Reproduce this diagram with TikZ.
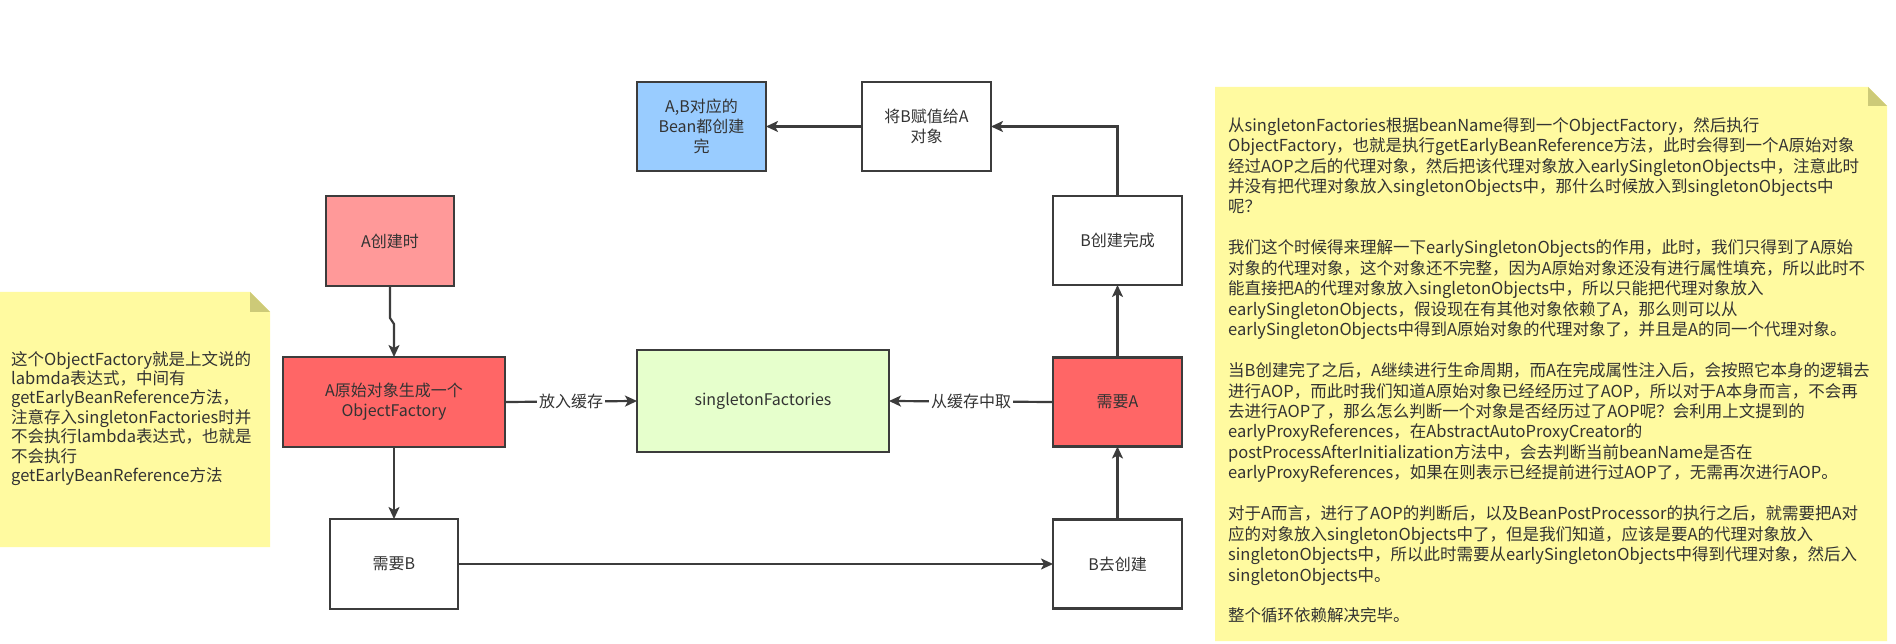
\documentclass[tikz,border=0pt]{standalone}
\usepackage{fontspec}
\setmainfont{Noto Sans CJK SC}
\usetikzlibrary{arrows.meta,positioning}
\definecolor{boxline}{HTML}{3C3C3C}
\definecolor{txt}{HTML}{333333}
\definecolor{lightred}{HTML}{FF9999}
\definecolor{red}{HTML}{FF6666}
\definecolor{blue}{HTML}{99CCFF}
\definecolor{green}{HTML}{E6FFCC}
\definecolor{notefill}{RGB}{255,250,160}
\definecolor{notefold}{RGB}{205,202,120}
\tikzset{
  box/.style={draw=boxline, line width=2.2pt, inner sep=0pt, outer sep=0pt,
    minimum width=129pt, minimum height=89pt, align=center, text=txt,
    font=\fontsize{16}{20}\selectfont},
  conn/.style={draw=boxline, line width=2.2pt,
    -{Stealth[length=12pt,width=11pt,inset=3pt]}},
  elabel/.style={fill=white, inner sep=2pt, text=txt,
    font=\fontsize{16}{20}\selectfont},
  notetext/.style={anchor=north west, inner sep=0pt, align=left, text=txt}
}
\begin{document}
\begin{tikzpicture}[x=1pt,y=-1pt]
\useasboundingbox (0,0) rectangle (1896,644);
\fill[white] (0,0) rectangle (1896,644);

% notes
\fill[notefill] (0,292) -- (250,292) -- (270,312) -- (270,547) -- (0,547) -- cycle;
\fill[notefold] (250,292) -- (250,312) -- (270,312) -- cycle;
\fill[notefill] (1215,87) -- (1868,87) -- (1887,106) -- (1887,641) -- (1215,641) -- cycle;
\fill[notefold] (1868,87) -- (1868,106) -- (1887,106) -- cycle;

\node[notetext, font=\fontsize{16.5}{19.4}\selectfont] (leftnote) at (11,351) {%
这个ObjectFactory就是上文说的\\
labmda表达式，中间有\\
getEarlyBeanReference方法，\\
注意存入singletonFactories时并\\
不会执行lambda表达式，也就是\\
不会执行\\
getEarlyBeanReference方法};

\node[notetext, font=\fontsize{16.5}{20.45}\selectfont] (rightnote) at (1228,117) {%
从singletonFactories根据beanName得到一个ObjectFactory，然后执行\\
ObjectFactory，也就是执行getEarlyBeanReference方法，此时会得到一个A原始对象\\
经过AOP之后的代理对象，然后把该代理对象放入earlySingletonObjects中，注意此时\\
并没有把代理对象放入singletonObjects中，那什么时候放入到singletonObjects中\\
呢？\\[20.45pt]
我们这个时候得来理解一下earlySingletonObjects的作用，此时，我们只得到了A原始\\
对象的代理对象，这个对象还不完整，因为A原始对象还没有进行属性填充，所以此时不\\
能直接把A的代理对象放入singletonObjects中，所以只能把代理对象放入\\
earlySingletonObjects，假设现在有其他对象依赖了A，那么则可以从\\
earlySingletonObjects中得到A原始对象的代理对象了，并且是A的同一个代理对象。\\[20.45pt]
当B创建完了之后，A继续进行生命周期，而A在完成属性注入后，会按照它本身的逻辑去\\
进行AOP，而此时我们知道A原始对象已经经历过了AOP，所以对于A本身而言，不会再\\
去进行AOP了，那么怎么判断一个对象是否经历过了AOP呢？会利用上文提到的\\
earlyProxyReferences，在AbstractAutoProxyCreator的\\
postProcessAfterInitialization方法中，会去判断当前beanName是否在\\
earlyProxyReferences，如果在则表示已经提前进行过AOP了，无需再次进行AOP。\\[20.45pt]
对于A而言，进行了AOP的判断后，以及BeanPostProcessor的执行之后，就需要把A对\\
应的对象放入singletonObjects中了，但是我们知道，应该是要A的代理对象放入\\
singletonObjects中，所以此时需要从earlySingletonObjects中得到代理对象，然后入\\
singletonObjects中。\\[20.45pt]
整个循环依赖解决完毕。};

% boxes
\node[box, fill=lightred, minimum width=128pt, minimum height=90pt] (acreate) at (390,241) {A创建时};
\node[box, fill=red, minimum width=222pt, minimum height=90pt] (of) at (394,402) {A原始对象生成一个\\ObjectFactory};
\node[box, fill=white, minimum width=128pt, minimum height=90pt] (needb) at (394,564) {需要B};
\node[box, fill=green, minimum width=252pt, minimum height=102pt] (sf) at (763,401) {singletonFactories};
\node[box, fill=red] (needa) at (1117.5,402) {需要A};
\node[box, fill=white] (bgo) at (1117.5,564) {B去创建};
\node[box, fill=white] (bdone) at (1117.5,240.5) {B创建完成};
\node[box, fill=white] (btoa) at (926.5,126.5) {将B赋值给A\\对象};
\node[box, fill=blue] (alldone) at (701.5,126.5) {A,B对应的\\Bean都创建\\完};

% connectors
\coordinate (j1) at (390,318);
\coordinate (j2) at (394,324);
\draw[conn] (acreate.south) -- (j1) -- (j2) -- (of.north);
\draw[conn] (of.south) -- (needb.north);
\draw[conn] (needb.east) -- (bgo.west);
\draw[conn] (bgo.north) -- (needa.south);
\draw[conn] (needa.north) -- (bdone.south);
\draw[conn] (bdone.north) |- (btoa.east);
\draw[conn] (btoa.west) -- (alldone.east);
\draw[conn] (of.east) -- node[elabel] (lput) {放入缓存} (sf.west);
\draw[conn] (needa.west) -- node[elabel] (lget) {从缓存中取} (sf.east);
\end{tikzpicture}
\end{document}
